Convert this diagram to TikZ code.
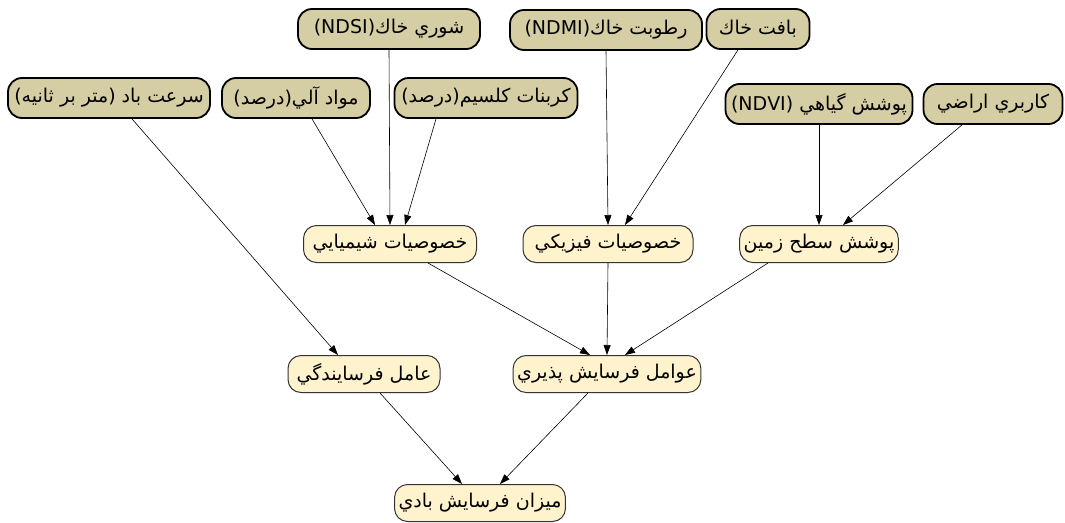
\documentclass[tikz,border=0pt]{standalone}
\usepackage{fontspec}
\newfontfamily\arabicfont[Script=Arabic]{DejaVu Sans}
\TeXXeTstate=1
\usetikzlibrary{arrows.meta}
\definecolor{leafcol}{RGB}{213,205,163}
\definecolor{innercol}{RGB}{255,243,206}
\begin{document}
\begin{tikzpicture}[x=1pt,y=-1pt,
	>={Triangle[length=10pt,width=7pt]},
	leaf/.style={draw=black,line width=1.8pt,fill=leafcol,rounded corners=14pt,minimum height=40pt,inner xsep=4pt,font=\arabicfont\fontsize{19}{22}\selectfont},
	inner/.style={draw=black!80,line width=1pt,fill=innercol,rounded corners=13pt,minimum height=37pt,inner xsep=4pt,font=\arabicfont\fontsize{19}{22}\selectfont}]
				\useasboundingbox (0,0) rectangle (1065,522);
				%input factors
				\node[leaf,minimum width=182pt] (ndsi) at (389,29) {\beginR شوري خاك(NDSI)\endR};
				\node[leaf,minimum width=192pt] (ndmi) at (606,30) {\beginR رطوبت خاك(NDMI)\endR};
				\node[leaf,minimum width=103pt] (texture) at (758,29) {\beginR بافت خاك\endR};
				\node[leaf,minimum width=202pt] (wind) at (109,98) {\beginR سرعت باد (متر بر ثانيه)\endR};
				\node[leaf,minimum width=148pt] (organic) at (296,98) {\beginR مواد آلي(درصد)\endR};
				\node[leaf,minimum width=183pt] (carbonate) at (486,98) {\beginR كربنات كلسيم(درصد)\endR};
				\node[leaf,minimum width=187pt] (ndvi) at (819,104) {\beginR پوشش گياهي (NDVI)\endR};
				\node[leaf,minimum width=139pt] (landuse) at (993,104) {\beginR كاربري اراضي\endR};
				%groups
				\node[inner,minimum width=173pt] (chem) at (390,244) {\beginR خصوصيات شيميايي\endR};
				\node[inner,minimum width=170pt] (phys) at (608,244) {\beginR خصوصيات فيزيكي\endR};
				\node[inner,minimum width=156pt] (cover) at (819,244) {\beginR پوشش سطح زمين\endR};
				\node[inner,minimum width=152pt] (erosivity) at (364,374) {\beginR عامل فرسايندگي\endR};
				\node[inner,minimum width=181pt] (erodibility) at (607,374) {\beginR عوامل فرسايش پذيري\endR};
				\node[inner,minimum width=166pt] (rate) at (480,503) {\beginR ميزان فرسايش بادي\endR};
				%links
				\foreach \a/\sa/\b/\sb in {wind/23/erosivity/-26, organic/16/chem/-15, ndsi/0/chem/0, carbonate/-50/chem/15,
					ndmi/0/phys/0, texture/-20/phys/17, ndvi/0/cover/0, landuse/-31/cover/24,
					chem/38/erodibility/-17, phys/0/erodibility/0, cover/-51/erodibility/18,
					erosivity/16/rate/-18, erodibility/-19/rate/20}{
					\draw[->,line width=0.6pt] ([xshift=\sa pt]\a.south) -- ([xshift=\sb pt]\b.north);
				}
			\end{tikzpicture}
\end{document}
